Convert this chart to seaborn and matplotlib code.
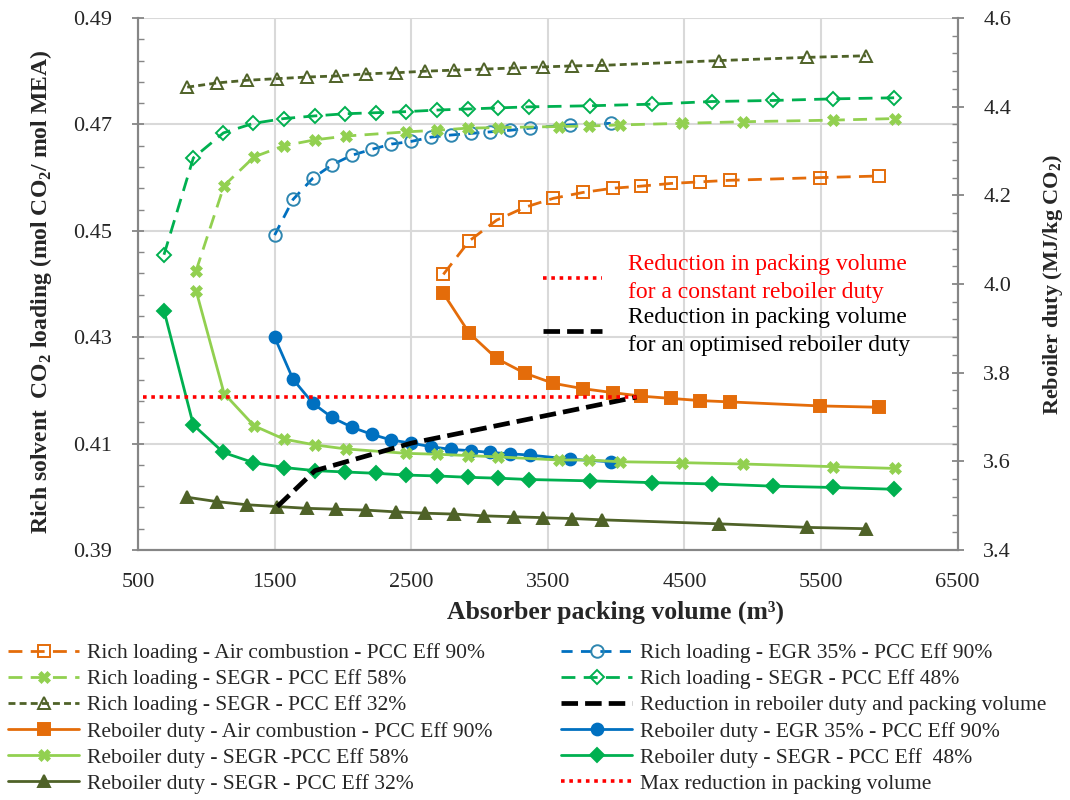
import matplotlib
matplotlib.use("Agg")
import matplotlib.pyplot as plt
from matplotlib.lines import Line2D
from matplotlib.ticker import MultipleLocator, FormatStrFormatter
import seaborn as sns

# packing volume (m3) per case
x_air = [2735, 2925, 3125, 3330, 3540, 3755, 3975, 4185, 4400, 4615, 4835, 5490, 5925]
x_egr = [1500, 1635, 1780, 1920, 2065, 2210, 2355, 2500, 2645, 2790, 2935, 3080, 3225, 3370, 3660, 3960]
x_58 = [925, 1130, 1350, 1570, 1795, 2020, 2465, 2690, 2915, 3135, 3580, 3800, 4030, 4480, 4930, 5585, 6045]
x_48 = [690, 905, 1125, 1345, 1570, 1795, 2015, 2240, 2465, 2690, 2915, 3135, 3365, 3805, 4260, 4700, 5150,
        5590, 6035]
x_32 = [860, 1080, 1300, 1520, 1735, 1950, 2170, 2385, 2600, 2815, 3035, 3250, 3465, 3680, 3900, 4755, 5400, 5830]

# rich loading (mol CO2 / mol MEA), left axis
rich_air = [0.4418, 0.4481, 0.4520, 0.4544, 0.4561, 0.4572, 0.4580, 0.4584, 0.4589, 0.4592, 0.4595, 0.4600, 0.4603]
rich_egr = [0.4492, 0.4559, 0.4599, 0.4624, 0.4642, 0.4653, 0.4663, 0.4668, 0.4676, 0.4680, 0.4683, 0.4686,
            0.4689, 0.4693, 0.4699, 0.4702]
rich_58 = [0.4425, 0.4585, 0.4639, 0.4660, 0.4671, 0.4678, 0.4686, 0.4689, 0.4693, 0.4694, 0.4696, 0.4697,
           0.4699, 0.4702, 0.4705, 0.4708, 0.4711]
rich_48 = [0.4455, 0.4637, 0.4684, 0.4702, 0.4711, 0.4716, 0.4720, 0.4722, 0.4724, 0.4727, 0.4729, 0.4731,
           0.4733, 0.4735, 0.4738, 0.4743, 0.4745, 0.4748, 0.4750]
rich_32 = [0.4770, 0.4778, 0.4783, 0.4786, 0.4789, 0.4791, 0.4795, 0.4797, 0.4800, 0.4802, 0.4804, 0.4806,
           0.4808, 0.4810, 0.4811, 0.4820, 0.4826, 0.4829]

# reboiler duty (MJ/kg CO2), right axis
reb_air = [3.979, 3.889, 3.832, 3.799, 3.776, 3.764, 3.755, 3.747, 3.742, 3.737, 3.734, 3.725, 3.722]
reb_egr = [3.880, 3.785, 3.731, 3.699, 3.677, 3.661, 3.648, 3.641, 3.633, 3.627, 3.624, 3.620, 3.617, 3.614,
           3.605, 3.599]
reb_58 = [3.985, 3.753, 3.680, 3.650, 3.637, 3.628, 3.618, 3.616, 3.613, 3.610, 3.603, 3.603, 3.599, 3.597,
          3.594, 3.588, 3.584]
reb_48 = [3.940, 3.682, 3.620, 3.597, 3.586, 3.579, 3.576, 3.573, 3.569, 3.567, 3.564, 3.562, 3.559, 3.556,
          3.552, 3.549, 3.544, 3.541, 3.537]
reb_32 = [3.519, 3.509, 3.502, 3.498, 3.494, 3.492, 3.490, 3.486, 3.483, 3.481, 3.477, 3.475, 3.473, 3.471,
          3.468, 3.459, 3.451, 3.448]

# reduction lines
x_opt = [1520, 1795, 2500, 4150]
reb_opt = [3.498, 3.579, 3.641, 3.745]
x_max = [540, 4150]
reb_max = [3.746, 3.746]

ORANGE = "#E46C0A"
BLUE = "#0070C0"
TEAL = "#2E86B0"
LGREEN = "#92D050"
GREEN = "#00B050"
OLIVE = "#4F6228"
GRAY = "#868686"

sns.set_style("white")
plt.rcParams["font.family"] = ["Liberation Serif", "DejaVu Serif"]
plt.rcParams["mathtext.fontset"] = "custom"
plt.rcParams["mathtext.rm"] = "Liberation Serif"
plt.rcParams["mathtext.bf"] = "Liberation Serif:bold"

fig = plt.figure(figsize=(10.7, 8), dpi=100)
ax = fig.add_axes([0.129, 0.3125, 0.766, 0.665])
ax2 = ax.twinx()

handles = {}


def draw(axis, x, y, key, color, ls, marker, ms, lw=2.0, open_marker=False, mew=1.4):
    sns.lineplot(x=x, y=y, ax=axis, color=color, linestyle=ls, linewidth=lw, marker=marker,
                 markersize=ms, markerfacecolor="none" if open_marker else color,
                 markeredgecolor=color, markeredgewidth=mew, errorbar=None, sort=False)
    handles[key] = axis.lines[-1]


# rich loading (left axis), dashed with open markers
draw(ax, x_air, rich_air, "ra", ORANGE, (0, (5, 3)), "s", 9, open_marker=True)
draw(ax, x_egr, rich_egr, "re", BLUE, (0, (4, 3)), "o", 9, open_marker=True)
handles["re"].set_markeredgecolor(TEAL)
draw(ax, x_58, rich_58, "r58", LGREEN, (0, (5, 3)), "X", 8, mew=0.5)
draw(ax, x_48, rich_48, "r48", GREEN, (0, (5, 3)), "D", 7, open_marker=True)
draw(ax, x_32, rich_32, "r32", OLIVE, (0, (2.5, 1.5)), "^", 9, open_marker=True)

# reboiler duty (right axis), solid with filled markers
draw(ax2, x_air, reb_air, "ba", ORANGE, "-", "s", 8.5)
draw(ax2, x_egr, reb_egr, "be", BLUE, "-", "o", 8.5)
draw(ax2, x_58, reb_58, "b58", LGREEN, "-", "X", 8.5, mew=0.5)
draw(ax2, x_48, reb_48, "b48", GREEN, "-", "D", 7)
draw(ax2, x_32, reb_32, "b32", OLIVE, "-", "^", 8)

# reduction lines
draw(ax2, x_opt, reb_opt, "opt", "black", (0, (3.5, 1.5)), None, 0, lw=3.4)
draw(ax2, x_max, reb_max, "max", "red", (0, (1, 1.3)), None, 0, lw=2.6)

# axes styling
ax.set_xlim(500, 6500)
ax.set_ylim(0.39, 0.49)
ax2.set_ylim(3.4, 4.6)
ax.xaxis.set_major_locator(MultipleLocator(1000, offset=500))
ax.xaxis.set_minor_locator(MultipleLocator(200, offset=100))
ax.yaxis.set_major_locator(MultipleLocator(0.02, offset=0.01))
ax.yaxis.set_minor_locator(MultipleLocator(0.004, offset=0.002))
ax.yaxis.set_major_formatter(FormatStrFormatter("%.2f"))
ax2.yaxis.set_major_locator(MultipleLocator(0.2))
ax2.yaxis.set_minor_locator(MultipleLocator(0.04))
ax2.yaxis.set_major_formatter(FormatStrFormatter("%.1f"))

ax.grid(True, which="major", color="#D9D9D9", linewidth=1.5)
ax.set_axisbelow(True)
for a in (ax, ax2):
    for sp in a.spines.values():
        sp.set_color(GRAY)
        sp.set_linewidth(1.5)
    a.spines["top"].set_visible(False)
ax.tick_params(axis="both", which="major", direction="inout", length=9, width=1.3, color=GRAY,
               labelsize=16, pad=14)
ax.tick_params(axis="both", which="minor", direction="in", length=4, width=1.0, color=GRAY)
ax.tick_params(axis="x", which="major", pad=12)
ax2.tick_params(axis="y", which="major", direction="inout", length=9, width=1.3, color=GRAY,
                labelsize=16, pad=14)
ax2.tick_params(axis="y", which="minor", direction="in", length=4, width=1.0, color=GRAY)

ax.set_xlabel("Absorber packing volume (m\u00b3)", fontsize=18.5, fontweight="bold")
ax.xaxis.set_label_coords(0.582, -0.118)
ax.xaxis.label.set_va("center")
ax.set_ylabel("Rich solvent  CO$_\\mathbf{2}$ loading (mol CO$_\\mathbf{2}$/ mol MEA)", fontsize=17,
              fontweight="bold")
ax.yaxis.set_label_coords(-0.118, 0.485)
ax.yaxis.label.set_va("center")
ax2.set_ylabel("Reboiler duty (MJ/kg CO$_\\mathbf{2}$)", fontsize=16, fontweight="bold")
ax2.yaxis.set_label_coords(1.116, 0.5)
ax2.yaxis.label.set_va("center")

# inset key for the two reduction lines
key_handles = [Line2D([], [], color="red", linestyle=(0, (1, 1.3)), linewidth=2.6),
               Line2D([], [], color="black", linestyle=(0, (3.5, 1.5)), linewidth=3.4)]
key = ax2.legend(key_handles, ["Reduction in packing volume\nfor a constant reboiler duty",
                               "Reduction in packing volume\nfor an optimised reboiler duty"],
                 loc="upper left", bbox_to_anchor=(0.494, 0.556), frameon=False, fontsize=17,
                 handlelength=2.5, handletextpad=1.1, labelspacing=0.2, borderpad=0, borderaxespad=0,
                 labelcolor=["red", "black"])
for t in key.get_texts():
    t.set_linespacing(1.4)

# bottom legend
order = ["ra", "r58", "r32", "ba", "b58", "b32", "re", "r48", "opt", "be", "b48", "max"]
labels = {
    "ra": "Rich loading - Air combustion - PCC Eff 90%",
    "r58": "Rich loading - SEGR - PCC Eff 58%",
    "r32": "Rich loading - SEGR - PCC Eff 32%",
    "ba": "Reboiler duty - Air combustion - PCC Eff 90%",
    "b58": "Reboiler duty - SEGR -PCC Eff 58%",
    "b32": "Reboiler duty - SEGR - PCC Eff 32%",
    "re": "Rich loading - EGR 35% - PCC Eff 90%",
    "r48": "Rich loading - SEGR - PCC Eff 48%",
    "opt": "Reduction in reboiler duty and packing volume",
    "be": "Reboiler duty - EGR 35% - PCC Eff 90%",
    "b48": "Reboiler duty - SEGR - PCC Eff  48%",
    "max": "Max reduction in packing volume",
}
fig.legend([handles[k] for k in order], [labels[k] for k in order], ncol=2, loc="upper left",
           bbox_to_anchor=(0.0075, 0.196), frameon=False, fontsize=15.5, handlelength=3.3,
           handletextpad=0.37, labelspacing=0.28, columnspacing=3.2, borderpad=0, borderaxespad=0)

fig.savefig("out.png", dpi=100)
